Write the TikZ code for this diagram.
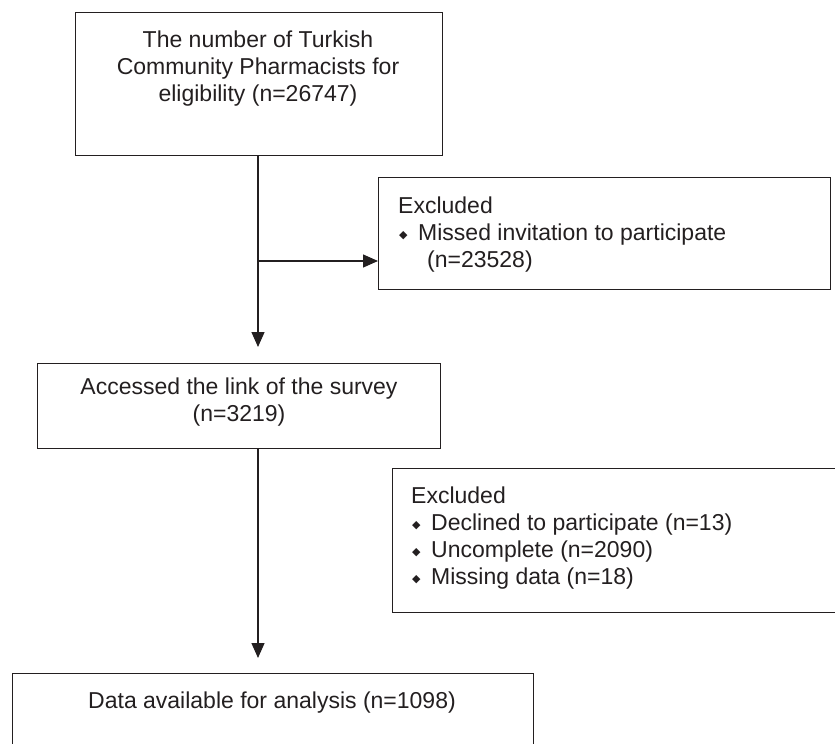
\documentclass[tikz,border=0pt]{standalone}
\usepackage{fontspec}
\setmainfont{Liberation Sans}
\newfontfamily\dejavu{DejaVu Sans}
\usetikzlibrary{arrows.meta}
\definecolor{ink}{HTML}{231F20}
\newcommand\bulmark{\makebox[20pt][l]{\hspace{1pt}\raisebox{2pt}{\dejavu\fontsize{11}{11}\selectfont ◆}}}
\begin{document}
\begin{tikzpicture}[x=1pt,y=-1pt,
  box/.style={draw=ink,line width=1.3pt,inner sep=0pt,anchor=north west},
  txt/.style={text=ink,inner sep=0pt,font=\fontsize{23}{27}\selectfont},
  arr/.style={draw=ink,line width=1.3pt,-{Triangle[length=15pt,width=13pt]}}]
\useasboundingbox (0,0) rectangle (835,744);
\clip (0,0) rectangle (835,744);
% boxes
\node[box,minimum width=367pt,minimum height=143pt] (b1) at (75,12) {};
\node[box,minimum width=452pt,minimum height=112pt] (e1) at (378,177) {};
\node[box,minimum width=403pt,minimum height=85pt] (b2) at (37,363) {};
\node[box,minimum width=460pt,minimum height=144pt] (e2) at (392,468) {};
\node[box,minimum width=521pt,minimum height=120pt] (b3) at (12,673) {};
% texts
\node[txt,align=center,anchor=north] (t1) at (258,31) {The number of Turkish\\Community Pharmacists for\\eligibility (n=26747)};
\node[txt,align=left,anchor=north west] (t2) at (398,197) {Excluded\\\bulmark Missed invitation to participate\\\hspace{29pt}(n=23528)};
\node[txt,align=center,anchor=north] (t3) at (239,378) {Accessed the link of the survey\\(n=3219)};
\node[txt,align=left,anchor=north west] (t4) at (411,487) {Excluded\\\bulmark Declined to participate (n=13)\\\bulmark Uncomplete (n=2090)\\\bulmark Missing data (n=18)};
\node[txt,anchor=north] (t5) at (272,692) {Data available for analysis (n=1098)};
% connectors
\coordinate (j1) at (258,261);
\draw[arr] (b1.south -| j1) -- ([yshift=16pt]b2.north -| j1);
\draw[arr] (j1) -- (e1.west |- j1);
\draw[arr] (b2.south -| j1) -- ([yshift=15pt]b3.north -| j1);
\end{tikzpicture}
\end{document}
